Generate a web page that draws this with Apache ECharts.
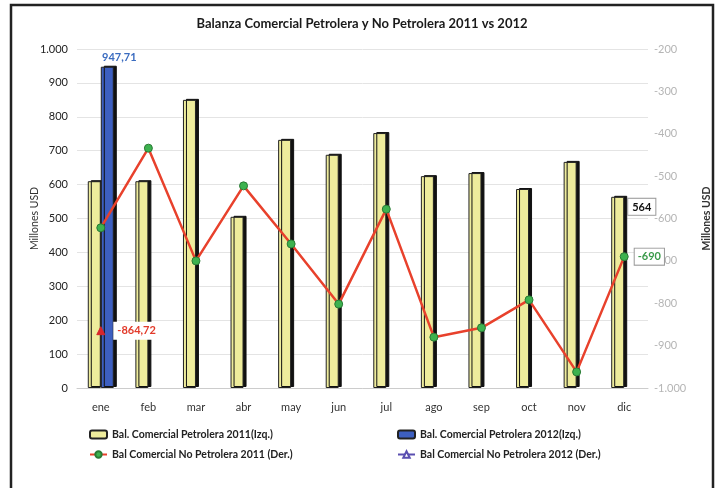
<!DOCTYPE html>
<html>
<head>
<meta charset="utf-8">
<script src="https://cdn.jsdelivr.net/npm/echarts@6/dist/echarts.min.js"></script>
<style>html,body{margin:0;padding:0;background:#fff}#c{width:724px;height:488px}</style>
</head>
<body>
<div id="c"></div>
<script>
const months = ['ene','feb','mar','abr','may','jun','jul','ago','sep','oct','nov','dic'];
const petrolera2011 = [610, 610, 850, 505, 732, 688, 752, 625, 634, 587, 667, 564];
const petrolera2012 = [947.71, null, null, null, null, null, null, null, null, null, null, null];
const noPetrolera2011 = [-622, -434, -700, -523, -660, -802, -578, -880, -858, -792, -962, -690];
const noPetrolera2012 = [-864.72, null, null, null, null, null, null, null, null, null, null, null];
const leftTicks = [0, 1000, 100];
const rightTicks = [-1000, -200, 100];

const FONT = 'Lato, "Open Sans", sans-serif';
const fmt = v => {
  const s = Math.abs(v).toString();
  const t = s.replace(/\B(?=(\d{3})+(?!\d))/g, '.');
  return (v < 0 ? '-' : '') + t;
};
const names = ['Bal. Comercial Petrolera 2011(Izq.)','Bal. Comercial Petrolera 2012(Izq.)','Bal Comercial No Petrolera 2011 (Der.)','Bal Comercial No Petrolera 2012 (Der.)'];

const chart = echarts.init(document.getElementById('c'));
chart.setOption({
  animation: false,
  textStyle: {fontFamily: FONT},
  title: {
    text: 'Balanza Comercial Petrolera y No Petrolera 2011 vs 2012',
    left: 'center', top: 12,
    textStyle: {fontFamily: FONT, fontSize: 13, fontWeight: 'bold', color: '#1a1a1a'}
  },
  graphic: [{
    type: 'rect', shape: {x: 11, y: 5, width: 702, height: 500},
    style: {fill: 'none', stroke: '#222', lineWidth: 2.5}, silent: true
  }],
  legend: [{
    data: [names[0], names[2]], orient: 'vertical', left: 84, top: 424, itemGap: 9,
    itemWidth: 17, itemHeight: 8,
    textStyle: {fontFamily: FONT, fontSize: 10.5, fontWeight: 'bold', color: '#222'}
  }, {
    data: [names[1], names[3]], orient: 'vertical', left: 392, top: 424, itemGap: 9,
    itemWidth: 17, itemHeight: 8,
    textStyle: {fontFamily: FONT, fontSize: 10.5, fontWeight: 'bold', color: '#222'}
  }],
  grid: {left: 77, right: 76, top: 49, bottom: 100},
  xAxis: {
    type: 'category', data: months,
    axisLine: {lineStyle: {color: '#ccc'}},
    axisTick: {lineStyle: {color: '#bbb'}, length: 4},
    axisLabel: {color: '#333', fontSize: 11, margin: 14, fontFamily: FONT}
  },
  yAxis: [{
    type: 'value', min: leftTicks[0], max: leftTicks[1], interval: leftTicks[2],
    name: 'Millones USD', nameLocation: 'middle', nameGap: 37, nameRotate: 90,
    nameMoveOverlap: false,
    nameTextStyle: {color: '#333', fontSize: 10.5, fontFamily: FONT},
    axisLabel: {color: '#222', fontSize: 11, margin: 9, formatter: fmt, fontFamily: FONT},
    axisLine: {show: false}, axisTick: {show: false},
    splitLine: {lineStyle: {color: '#e4e4e4'}}
  }, {
    type: 'value', min: rightTicks[0], max: rightTicks[1], interval: rightTicks[2],
    name: 'Millones USD', nameLocation: 'middle', nameGap: 53, nameRotate: 90,
    nameMoveOverlap: false,
    nameTextStyle: {color: '#333', fontSize: 10.5, fontWeight: 'bold', fontFamily: FONT},
    axisLabel: {color: '#b5b5b5', fontSize: 11, margin: 6, formatter: fmt, fontFamily: FONT},
    axisLine: {show: false}, axisTick: {show: false},
    splitLine: {show: false}
  }],
  series: [{
    name: names[0], type: 'bar', yAxisIndex: 0, barWidth: 13, barGap: '0%',
    itemStyle: {color: '#eeec9c', borderColor: '#222', borderWidth: 1,
      shadowColor: '#111', shadowOffsetX: 3, shadowOffsetY: -1, shadowBlur: 0},
    data: petrolera2011.map((v, i) => i === 11 ? {
      value: v,
      label: {show: true, position: ['100%', 0], offset: [4, 2], formatter: '564',
        color: '#111', fontWeight: 'bold', fontSize: 11, fontFamily: FONT,
        backgroundColor: '#fff', borderColor: '#999', borderWidth: 1, padding: [3, 4, 2, 4]}
    } : v)
  }, {
    name: names[1], type: 'bar', yAxisIndex: 0, barWidth: 13,
    itemStyle: {color: '#3d5fc0', borderColor: '#222', borderWidth: 1,
      shadowColor: '#111', shadowOffsetX: 3, shadowOffsetY: -1, shadowBlur: 0},
    label: {show: true, position: 'top', distance: 4, offset: [12, 0], formatter: '947,71',
      color: '#3b6cc0', fontWeight: 'bold', fontSize: 11, fontFamily: FONT},
    data: petrolera2012
  }, {
    name: names[2], type: 'line', yAxisIndex: 1,
    symbol: 'circle', symbolSize: 8,
    lineStyle: {color: '#e8412c', width: 2.5},
    itemStyle: {color: '#3db24f', borderColor: '#2a7a35', borderWidth: 1},
    data: noPetrolera2011.map((v, i) => i === 11 ? {
      value: v,
      label: {show: true, position: 'right', distance: 6, formatter: '-690',
        color: '#3a9a4a', fontWeight: 'bold', fontSize: 11, fontFamily: FONT,
        backgroundColor: '#fff', borderColor: '#999', borderWidth: 1, padding: [3, 3, 2, 3]}
    } : v)
  }, {
    name: names[3], type: 'line', yAxisIndex: 1,
    symbol: 'triangle', symbolSize: 8,
    lineStyle: {color: '#5a4fb0', width: 1.5},
    itemStyle: {color: '#fff', borderColor: '#5a4fb0', borderWidth: 1},
    data: noPetrolera2012.map((v, i) => i === 0 ? {
      value: v,
      itemStyle: {color: '#d8262a', borderColor: '#d8262a'},
      label: {show: true, position: 'right', distance: 8, formatter: '-864,72',
        color: '#e23a2a', fontWeight: 'bold', fontSize: 11, fontFamily: FONT,
        backgroundColor: '#fff', padding: [4, 4, 3, 4]}
    } : v)
  }]
});
</script>
</body>
</html>
